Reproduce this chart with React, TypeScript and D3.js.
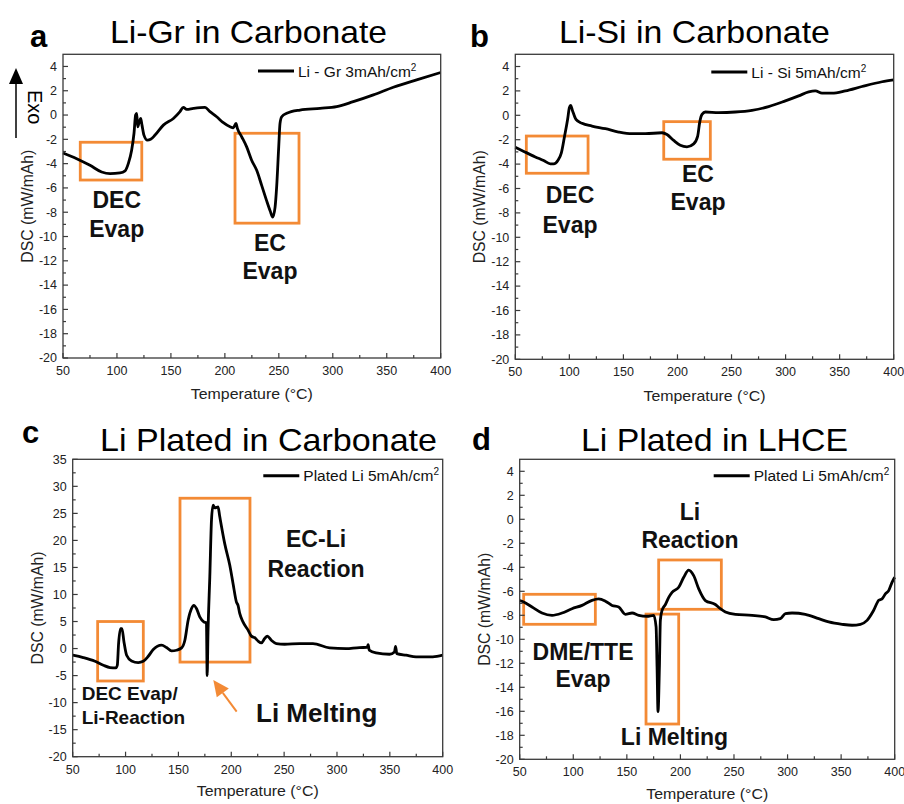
import React from "react";
import * as d3 from "d3";

const FONT = "'Liberation Sans', Arial, Helvetica, sans-serif";
const ORANGE = "#F38A35";
const AXIS = "#3a3a3a";

const X_TICKS = [50, 100, 150, 200, 250, 300, 350, 400];
const X_MINOR = [75, 125, 175, 225, 275, 325, 375];
const Y_TICKS_S = [-20, -18, -16, -14, -12, -10, -8, -6, -4, -2, 0, 2, 4];
const Y_MINOR_S = [-19, -17, -15, -13, -11, -9, -7, -5, -3, -1, 1, 3];
const Y_TICKS_C = [-20, -15, -10, -5, 0, 5, 10, 15, 20, 25, 30, 35];
const Y_MINOR_C = [-17.5, -12.5, -7.5, -2.5, 2.5, 7.5, 12.5, 17.5, 22.5, 27.5, 32.5];

const TITLES = ["Li-Gr in Carbonate", "Li-Si in Carbonate", "Li Plated in Carbonate", "Li Plated in LHCE"];
const LETTERS = ["a", "b", "c", "d"];
const LEGENDS = ["Li - Gr 3mAh/cm", "Li - Si 5mAh/cm", "Plated Li 5mAh/cm", "Plated Li 5mAh/cm"];
const X_TITLE = "Temperature (\u00B0C)";
const Y_TITLE = "DSC (mW/mAh)";

// Panel a: Li-Gr
const grTemp = [50, 62.7, 75, 85.8, 93.6, 102.8, 107.5, 110.5, 113.6, 115.8, 117.3, 118.3, 119.2, 120.7, 122, 123.2, 125, 128.2, 131.2, 135.3, 143, 152.3, 158.4, 161.5, 164.6, 170.8, 181.6, 186.2, 192.4, 198.6, 204.8, 207.9, 210.3, 211.6, 215.6, 220.2, 224.8, 229.5, 234.1, 238.5, 242, 244.3, 246.5, 248, 249.9, 251.1, 252.7, 257.3, 269.6, 288.2, 303.6, 319, 337.6, 356.1, 377.7, 400];
const grDsc = [-3.12, -3.59, -4.14, -4.69, -4.83, -4.77, -4.6, -4.0, -2.9, -1.5, 0.0, 0.14, -0.97, -0.55, -0.28, -0.83, -1.65, -2.07, -2.0, -1.65, -0.83, -0.28, 0.28, 0.63, 0.47, 0.55, 0.63, 0.28, -0.14, -0.63, -0.97, -1.05, -0.69, -1.1, -1.79, -2.62, -3.72, -4.55, -5.79, -7.0, -7.9, -8.4, -7.6, -5.9, -2.62, -0.69, -0.14, 0.14, 0.41, 0.55, 0.69, 1.1, 1.66, 2.29, 2.9, 3.5];

// Panel b: Li-Si
const siTemp = [50, 59.3, 68.5, 76.2, 82.4, 85.5, 89.5, 92.6, 95.6, 98.4, 100, 101.2, 103, 106.1, 111.7, 120.9, 133.3, 145.6, 157.9, 170.3, 185.7, 190.3, 196.5, 202.6, 208.8, 215, 218.7, 220.5, 222.7, 225.8, 238.1, 253.5, 268.9, 284.3, 299.8, 312.1, 321.4, 327.5, 333.7, 342.9, 355.3, 370.7, 389.2, 400];
const siDsc = [-2.61, -3.02, -3.41, -3.71, -3.98, -3.98, -3.68, -3.08, -1.7, -0.33, 0.63, 0.82, 0.36, -0.33, -0.66, -0.88, -1.1, -1.37, -1.51, -1.51, -1.43, -1.57, -2.06, -2.45, -2.58, -2.34, -1.7, -0.6, 0.08, 0.27, 0.22, 0.27, 0.41, 0.71, 1.18, 1.59, 1.92, 2.0, 1.81, 1.81, 2.0, 2.36, 2.75, 2.91];

// Panel c: plated Li in carbonate
const pcTemp = [50, 60, 71.1, 79, 85.3, 90.9, 92.2, 93.4, 95.3, 96.6, 98.5, 101, 105.7, 112, 116.7, 121.5, 126.2, 134, 138.8, 143.5, 148.2, 153, 156.1, 159.2, 162.4, 164.6, 167.1, 170.2, 174, 176.5, 177.2, 178, 179.7, 181.3, 182.8, 184.5, 186, 187.5, 189.1, 193.8, 198.6, 201.7, 204.9, 206.4, 208, 211.2, 215.9, 219, 222.2, 225.3, 228.5, 231.6, 234.1, 237.9, 242.6, 250.5, 264.7, 277.3, 293, 308.7, 321.3, 328.5, 329.5, 330.5, 337, 349.7, 354.4, 355.4, 356.6, 365.4, 374.8, 390.6, 400];
const pcDsc = [-1.23, -1.67, -2.35, -3.09, -3.52, -3.58, -3.09, 0.93, 3.7, 3.7, 1.23, -1.23, -2.28, -2.59, -2.35, -1.42, -0.19, 0.62, 0.19, -0.43, -0.31, 0.12, 1.54, 5.25, 7.4, 8.0, 7.4, 5.86, 4.94, 4.75, -5.0, 3.0, 13.3, 23.8, 26.5, 26.0, 26.1, 26.2, 24.4, 19.4, 15.4, 12.0, 8.6, 8.0, 6.5, 4.9, 3.4, 2.3, 2.0, 1.4, 1.05, 1.85, 2.3, 1.54, 0.93, 0.8, 0.93, 0.93, 0.12, 0.0, 0.19, 0.2, 0.7, -0.3, -0.8, -1.05, -0.62, 0.4, -0.93, -1.23, -1.54, -1.54, -1.23];

// Panel d: plated Li in LHCE
const plTemp = [50, 53.7, 61.5, 70.8, 80.2, 89.5, 98.8, 108.2, 117.5, 123.7, 130, 136.2, 142.4, 148.6, 154.9, 161.1, 168.9, 175.1, 177.3, 178.2, 179.1, 180.4, 181.3, 182.9, 186, 189.1, 192.2, 198.4, 203.1, 207.7, 212.4, 217.1, 223.3, 232.6, 237.3, 242, 251.3, 266.9, 279.3, 287.1, 293.3, 298, 304.2, 316.6, 329.1, 338.4, 350.9, 360.2, 368, 374.2, 380.4, 385.1, 388.2, 391.3, 394.4, 397.5, 400];
const plDsc = [-6.77, -6.89, -7.31, -7.81, -8.0, -7.81, -7.45, -7.17, -6.75, -6.63, -6.82, -7.18, -7.31, -7.92, -7.81, -8.0, -8.08, -8.0, -8.97, -12.3, -16.03, -12.3, -8.4, -7.58, -7.1, -6.5, -6.08, -5.66, -4.83, -4.23, -4.7, -5.8, -6.77, -7.1, -7.45, -7.72, -7.92, -8.0, -8.14, -8.36, -8.28, -7.86, -7.81, -7.92, -8.28, -8.55, -8.75, -8.83, -8.75, -8.42, -7.58, -6.75, -6.63, -6.22, -5.94, -5.25, -4.83];

// Highlight boxes [x0, x1, yTop, yBottom] in data units
const grBoxes = [[66, 123, -2.24, -5.35], [209.4, 268.7, -1.5, -8.9]];
const siBoxes = [[60.2, 117.3, -1.7, -4.75], [187.3, 230.4, -0.52, -3.6]];
const pcBoxes = [[73.6, 116.8, 5, -6], [151.5, 217.7, 27.8, -2.5]];
const plBoxes = [[53.7, 120.6, -6.25, -8.75], [179.7, 238.2, -3.39, -7.5], [167.9, 198.4, -7.9, -17.06]];

// Annotation labels (text, x, y in data units, kind)
const grLabels = [["DEC", 99.8, -7.65, "m"], ["Evap", 99.8, -10.04, "m"], ["EC", 241.8, -11.17, "m"], ["Evap", 241.8, -13.5, "m"]];
const siLabels = [["DEC", 100.6, -7.19, "m"], ["Evap", 100.6, -9.65, "m"], ["EC", 219, -5.44, "m"], ["Evap", 219, -7.76, "m"]];
const pcLabels = [["EC-Li", 280.2, 18.72, "m"], ["Reaction", 280.2, 13.29, "m"], ["DEC Evap/", 58.5, -9.52, "s"], ["Li-Reaction", 58.5, -13.96, "s"], ["Li Melting", 223.4, -13.53, "b"]];
const plLabels = [["Li", 208.9, -0.06, "m"], ["Reaction", 208.9, -2.42, "m"], ["DME/TTE", 109.1, -11.72, "m"], ["Evap", 109.1, -14.0, "m"], ["Li Melting", 194.5, -18.8, "m"]];

const pcArrow = [[205.1, -11.68], [183, -5.82]];

const LAYOUT = [
  { left: 63, top: 54.3, right: 440.7, bottom: 358, titleX: 248.5, titleY: 42.7, titleW: 277, letterX: 30, letterY: 47, legendX: 258, legendY: 71, yTitleX: 33, xTitleY: 399 },
  { left: 515.3, top: 54.3, right: 893.7, bottom: 359.3, titleX: 694.4, titleY: 43, titleW: 271, letterX: 470, letterY: 47, legendX: 711.3, legendY: 72, yTitleX: 485, xTitleY: 401 },
  { left: 72.7, top: 459.3, right: 442.7, bottom: 756.7, titleX: 268.5, titleY: 450.7, titleW: 337, letterX: 22, letterY: 443, legendX: 263.3, legendY: 475.7, yTitleX: 43, xTitleY: 796 },
  { left: 519.7, top: 459.3, right: 894.7, bottom: 759.3, titleX: 714.5, titleY: 450.7, titleW: 267, letterX: 472, letterY: 450, legendX: 713.7, legendY: 475.7, yTitleX: 490, xTitleY: 799 },
];

const PANELS = [
  { temps: grTemp, vals: grDsc, boxes: grBoxes, labels: grLabels, yDomain: [-20, 5], yTicks: Y_TICKS_S, yMinor: Y_MINOR_S },
  { temps: siTemp, vals: siDsc, boxes: siBoxes, labels: siLabels, yDomain: [-20, 5], yTicks: Y_TICKS_S, yMinor: Y_MINOR_S },
  { temps: pcTemp, vals: pcDsc, boxes: pcBoxes, labels: pcLabels, yDomain: [-20, 35], yTicks: Y_TICKS_C, yMinor: Y_MINOR_C, arrow: pcArrow },
  { temps: plTemp, vals: plDsc, boxes: plBoxes, labels: plLabels, yDomain: [-20, 5], yTicks: Y_TICKS_S, yMinor: Y_MINOR_S },
];

const LABEL_SIZE: Record<string, number> = { m: 23, s: 19, b: 26 };

function Panel({ i }: { i: number }) {
  const L = LAYOUT[i];
  const P: any = PANELS[i];
  const x = d3.scaleLinear().domain([50, 400]).range([L.left, L.right]);
  const y = d3.scaleLinear().domain(P.yDomain).range([L.bottom, L.top]);
  const pts: [number, number][] = P.temps.map((t: number, k: number) => [t, P.vals[k]]);
  const line = d3.line<[number, number]>().x((d) => x(d[0])).y((d) => y(d[1])).curve(d3.curveMonotoneX);
  const cx = (L.left + L.right) / 2;
  const cy = (L.top + L.bottom) / 2;

  let arrowEl = null;
  if (P.arrow) {
    const [a, b] = P.arrow;
    const x1 = x(a[0]), y1 = y(a[1]), x2 = x(b[0]), y2 = y(b[1]);
    const ang = Math.atan2(y2 - y1, x2 - x1);
    const hl = 16, hw = 7.5;
    const bx = x2 - hl * Math.cos(ang), by = y2 - hl * Math.sin(ang);
    const px = -Math.sin(ang), py = Math.cos(ang);
    arrowEl = (
      <g>
        <line x1={x1} y1={y1} x2={bx} y2={by} stroke={ORANGE} strokeWidth={2} />
        <polygon points={`${x2},${y2} ${bx + px * hw},${by + py * hw} ${bx - px * hw},${by - py * hw}`} fill={ORANGE} />
      </g>
    );
  }

  return (
    <g fontFamily={FONT}>
      <text x={L.letterX} y={L.letterY} fontSize={31} fontWeight="bold" fill="#000">{LETTERS[i]}</text>
      <text x={L.titleX} y={L.titleY} fontSize={30.5} textAnchor="middle" textLength={L.titleW} lengthAdjust="spacingAndGlyphs" fill="#000">{TITLES[i]}</text>

      {P.boxes.map((b: number[], k: number) => (
        <rect key={k} x={x(b[0])} y={y(b[2])} width={x(b[1]) - x(b[0])} height={y(b[3]) - y(b[2])} fill="none" stroke={ORANGE} strokeWidth={2.8} />
      ))}

      <path d={line(pts) || ""} fill="none" stroke="#000" strokeWidth={2.8} strokeLinejoin="round" />

      <rect x={L.left} y={L.top} width={L.right - L.left} height={L.bottom - L.top} fill="none" stroke={AXIS} strokeWidth={1.3} />

      {X_TICKS.map((t) => (
        <g key={"xt" + t}>
          <line x1={x(t)} x2={x(t)} y1={L.bottom} y2={L.bottom - 5} stroke={AXIS} strokeWidth={1.2} />
          <text x={x(t)} y={L.bottom + 17} fontSize={12.5} textAnchor="middle" fill="#222">{t}</text>
        </g>
      ))}
      {X_MINOR.map((t) => (
        <line key={"xm" + t} x1={x(t)} x2={x(t)} y1={L.bottom} y2={L.bottom - 3} stroke={AXIS} strokeWidth={1.2} />
      ))}
      {P.yTicks.map((t: number) => (
        <g key={"yt" + t}>
          <line x1={L.left} x2={L.left + 5} y1={y(t)} y2={y(t)} stroke={AXIS} strokeWidth={1.2} />
          <text x={L.left - 6} y={y(t)} dy="0.35em" fontSize={12.5} textAnchor="end" fill="#222">{t}</text>
        </g>
      ))}
      {P.yMinor.map((t: number) => (
        <line key={"ym" + t} x1={L.left} x2={L.left + 3} y1={y(t)} y2={y(t)} stroke={AXIS} strokeWidth={1.2} />
      ))}

      <text x={cx} y={L.xTitleY} fontSize={14.5} textAnchor="middle" textLength={122} lengthAdjust="spacingAndGlyphs" fill="#222">{X_TITLE}</text>
      <text transform={`translate(${L.yTitleX},${cy}) rotate(-90)`} fontSize={17} textAnchor="middle" textLength={113} lengthAdjust="spacingAndGlyphs" fill="#222">{Y_TITLE}</text>

      <line x1={L.legendX} x2={L.legendX + 36} y1={L.legendY} y2={L.legendY} stroke="#000" strokeWidth={3} />
      <text x={L.legendX + 40} y={L.legendY + 5.5} fontSize={15.5} fill="#111">
        {LEGENDS[i]}
        <tspan dy={-6} fontSize={10}>2</tspan>
      </text>

      {P.labels.map((lb: any[], k: number) => (
        <text key={"lb" + k} x={x(lb[1])} y={y(lb[2])} fontSize={LABEL_SIZE[lb[3]]} fontWeight="bold" textAnchor={lb[3] === "m" ? "middle" : "start"} fill="#111">{lb[0]}</text>
      ))}
      {arrowEl}
    </g>
  );
}

export default function App() {
  return (
    <svg width={904} height={804} style={{ position: "absolute", left: 0, top: 0, background: "#fff" }}>
      <rect width={904} height={804} fill="#fff" />
      {[0, 1, 2, 3].map((i) => <Panel key={i} i={i} />)}
      <g fontFamily={FONT}>
        <line x1={16} x2={16} y1={82} y2={138} stroke="#000" strokeWidth={1.5} />
        <polygon points="16,68 9,84 23,84" fill="#000" />
        <text transform="translate(28,90) rotate(90)" fontSize={20} fill="#000">Exo</text>
      </g>
    </svg>
  );
}
